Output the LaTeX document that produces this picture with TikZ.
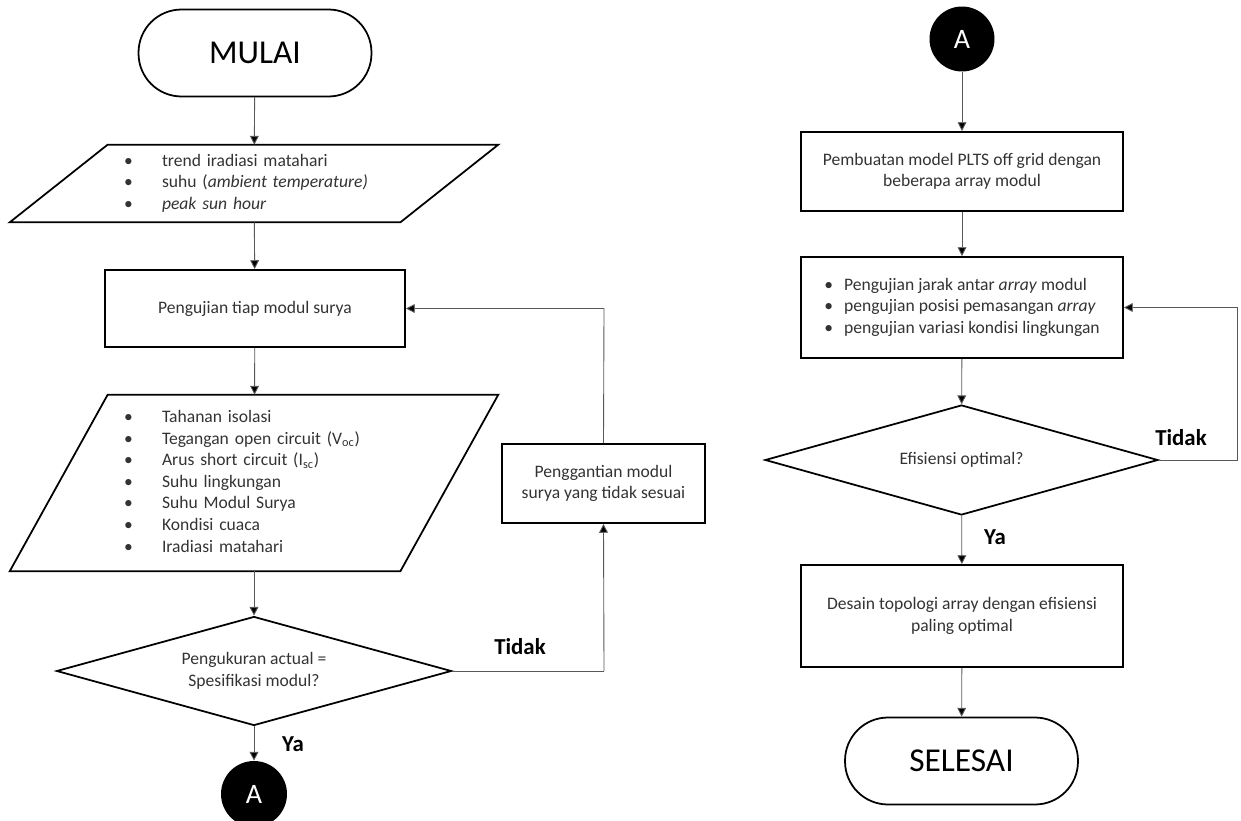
\documentclass[tikz,border=0pt]{standalone}
\usepackage{fontspec}
\setmainfont{Carlito}
\usetikzlibrary{shapes.geometric,arrows.meta}

\tikzset{
    terminal/.style={draw, line width=1pt, rounded corners=0.86cm, minimum width=4.66cm,
        minimum height=1.74cm, font=\fontsize{19}{22}\selectfont},
    proses/.style={draw, line width=1.1pt, minimum height=1.54cm, align=center,
        text=black!80, font=\fontsize{10}{12.3}\selectfont},
    masukan/.style={minimum width=7.8cm, inner sep=0pt, align=left, text=black!80,
        font=\fontsize{10}{12.3}\selectfont},
    keputusan/.style={draw, diamond, aspect=3.6, line width=1pt, inner sep=0pt, align=center,
        text=black!80, font=\fontsize{10}{12.3}\selectfont},
    konektor/.style={circle, fill=black, minimum size=1.32cm, inner sep=0pt,
        text=white, font=\fontsize{16}{18}\selectfont},
    jawab/.style={font=\bfseries\fontsize{13}{15}\selectfont},
    panah/.style={draw=black!65, line width=0.5pt, -{Triangle[width=5pt,length=5pt,fill=black]}},
    garis/.style={draw=black!65, line width=0.5pt}
}
\newcommand{\butir}[2]{\makebox[#1][l]{\textbullet}#2}

\begin{document}
\begin{tikzpicture}[x=0.02cm, y=-0.02cm]
    \useasboundingbox (0,0) rectangle (1241,821);

    \node[terminal] (mulai) at (255,53) {MULAI};
    \node[masukan, minimum height=1.54cm, text width=5.2cm] (in1) at (254,183.5)
        {\begin{tabular}{@{}l@{}}
         \butir{0.76cm}{trend iradiasi matahari}\\
         \butir{0.76cm}{suhu (\textit{ambient temperature)}}\\
         \butir{0.76cm}{\textit{peak sun hour}}
         \end{tabular}};
    \draw[line width=1pt] ([xshift=0.98cm]in1.north west) -- ([xshift=0.98cm]in1.north east)
        -- ([xshift=-0.98cm]in1.south east) -- ([xshift=-0.98cm]in1.south west) -- cycle;
    \node[proses, minimum width=6cm] (uji) at (255,308.5) {Pengujian tiap modul surya};
    \node[masukan, minimum height=3.52cm, text width=5.2cm] (in2) at (254,483)
        {\begin{tabular}{@{}l@{}}
         \butir{0.76cm}{Tahanan isolasi}\\
         \butir{0.76cm}{Tegangan open circuit (V\textsubscript{oc})}\\
         \butir{0.76cm}{Arus short circuit (I\textsubscript{sc})}\\
         \butir{0.76cm}{Suhu lingkungan}\\
         \butir{0.76cm}{Suhu Modul Surya}\\
         \butir{0.76cm}{Kondisi cuaca}\\
         \butir{0.76cm}{Iradiasi matahari}
         \end{tabular}};
    \draw[line width=1pt] ([xshift=0.98cm]in2.north west) -- ([xshift=0.98cm]in2.north east)
        -- ([xshift=-0.98cm]in2.south east) -- ([xshift=-0.98cm]in2.south west) -- cycle;
    \node[keputusan, minimum width=7.9cm, minimum height=2.18cm] (cek) at (254,671)
        {Pengukuran actual =\\Spesifikasi modul?};
    \node[proses, minimum width=4.06cm, minimum height=1.58cm] (ganti) at (603.5,483.5)
        {Penggantian modul\\surya yang tidak sesuai};
    \node[konektor] (konA) at (254,794) {A};
    \node[jawab] at (520,647) {Tidak};
    \node[jawab] at (293,744) {Ya};

    \node[konektor, minimum size=1.3cm] (konB) at (962,39) {A};
    \node[proses, minimum width=6.44cm, minimum height=1.58cm] (model) at (962,171.5)
        {Pembuatan model PLTS off grid dengan\\beberapa array modul};
    \node[proses, minimum width=6.44cm, minimum height=2.02cm] (variasi) at (962,307.5)
        {\begin{tabular}{@{}l@{}}
         \butir{0.4cm}{Pengujian jarak antar \textit{array} modul}\\
         \butir{0.4cm}{pengujian posisi pemasangan \textit{array}}\\
         \butir{0.4cm}{pengujian variasi kondisi lingkungan}
         \end{tabular}};
    \node[keputusan, minimum width=7.86cm, minimum height=2.2cm] (efisien) at (961.5,460)
        {Efisiensi optimal?};
    \node[proses, minimum width=6.44cm, minimum height=2.04cm] (desain) at (962,616)
        {Desain topologi array dengan efisiensi\\paling optimal};
    \node[terminal] (selesai) at (961.5,761) {SELESAI};
    \node[jawab] at (1181,438) {Tidak};
    \node[jawab] at (995,537) {Ya};

    \coordinate (belok1) at (604,671);
    \coordinate (belok2) at (604,308.5);
    \coordinate (belok3) at (1237,460);
    \coordinate (belok4) at (1237,307.5);

    \draw[panah] (mulai) -- (in1);
    \draw[panah] (in1) -- (uji);
    \draw[panah] (uji) -- (in2);
    \draw[panah] (in2) -- (cek);
    \draw[panah] (cek) -- (konA);
    \draw[garis] (cek.east) -- (belok1);
    \draw[panah] (belok1) -- (ganti.south);
    \draw[panah] (ganti.north) -- (belok2) -- (uji.east);

    \draw[panah] (konB) -- (model);
    \draw[panah] (model) -- (variasi);
    \draw[panah] (variasi) -- (efisien);
    \draw[panah] (efisien) -- (desain);
    \draw[panah] (desain) -- (selesai);
    \draw[panah] (efisien.east) -- (belok3) -- (belok4) -- (variasi.east);
\end{tikzpicture}
\end{document}
